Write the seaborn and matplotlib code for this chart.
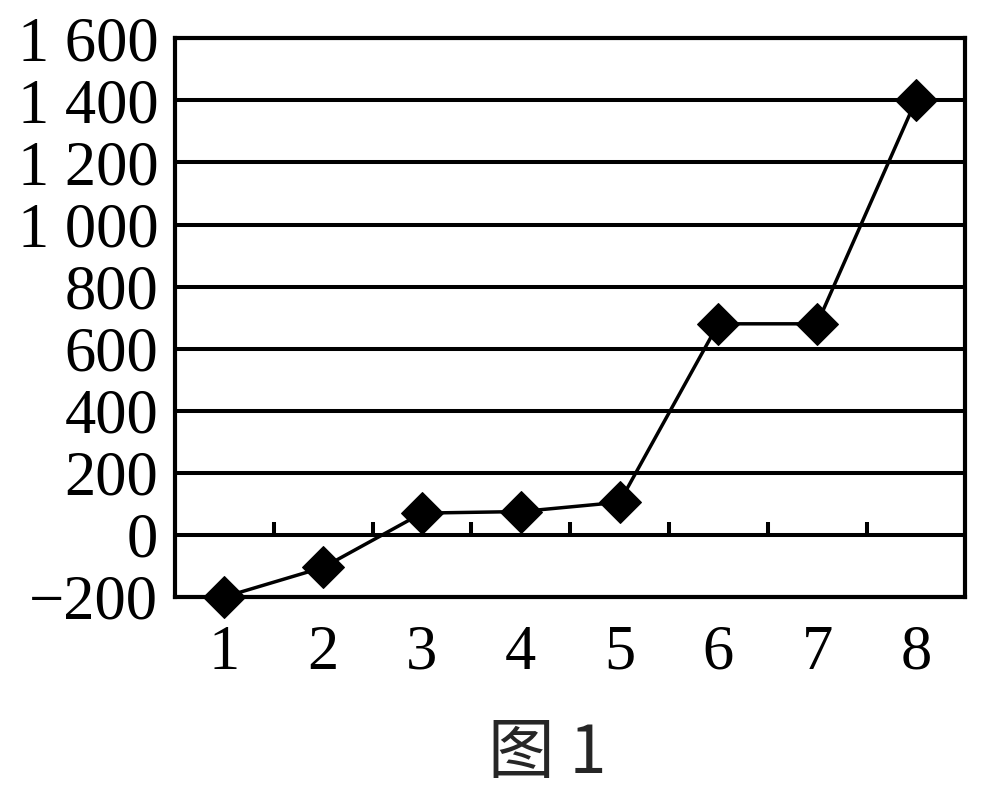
import numpy as np
import pandas as pd
import matplotlib
matplotlib.use("Agg")
import matplotlib.pyplot as plt
import seaborn as sns

# Datos
categorias = [1, 2, 3, 4, 5, 6, 7, 8]
valores = [-200, -105, 70, 75, 105, 680, 680, 1400]
ticks_y = [-200, 0, 200, 400, 600, 800, 1000, 1200, 1400, 1600]
etiquetas_y = ["−200", "0", "200", "400", "600", "800", "1 000", "1 200", "1 400", "1 600"]
titulo = "图 1"

sns.set_theme(style="white")
plt.rcParams["font.family"] = ["Liberation Serif", "DejaVu Serif"]

df = pd.DataFrame({"x": categorias, "y": valores})

fig = plt.figure(figsize=(9.83, 7.98), dpi=100)
ax = fig.add_axes([0.178, 0.252, 0.804, 0.700])

# Líneas horizontales de la cuadrícula
for t in ticks_y:
    ax.axhline(t, color="black", lw=2.9, zorder=1)

# Marcas de separación entre categorías sobre el eje cero
limites = np.arange(1.5, len(categorias), 1.0)
ax.vlines(limites, 0, 40, color="black", lw=2.9, zorder=1)

sns.lineplot(data=df, x="x", y="y", ax=ax, color="black", lw=2.5,
             marker="D", markersize=21, markeredgecolor="black", zorder=3,
             clip_on=False)

ax.set_xlim(0.5, len(categorias) + 0.5)
ax.set_ylim(ticks_y[0], ticks_y[-1])
ax.set_xticks(categorias)
ax.set_xticklabels([str(c) for c in categorias], fontsize=45)
ax.set_yticks(ticks_y)
ax.set_yticklabels(etiquetas_y, fontsize=45)
ax.tick_params(axis="both", length=0, colors="black")
ax.tick_params(axis="x", pad=20)
ax.tick_params(axis="y", pad=12)
ax.set_xlabel("")
ax.set_ylabel("")

for s in ax.spines.values():
    s.set_color("black")
    s.set_linewidth(3.0)
    s.set_visible(True)

fig.text(0.557, 0.055, titulo, ha="center", va="center", fontsize=48,
         weight="medium", family=["Noto Sans CJK SC", "Liberation Serif"])

fig.savefig("out.png", dpi=100, facecolor="white")
